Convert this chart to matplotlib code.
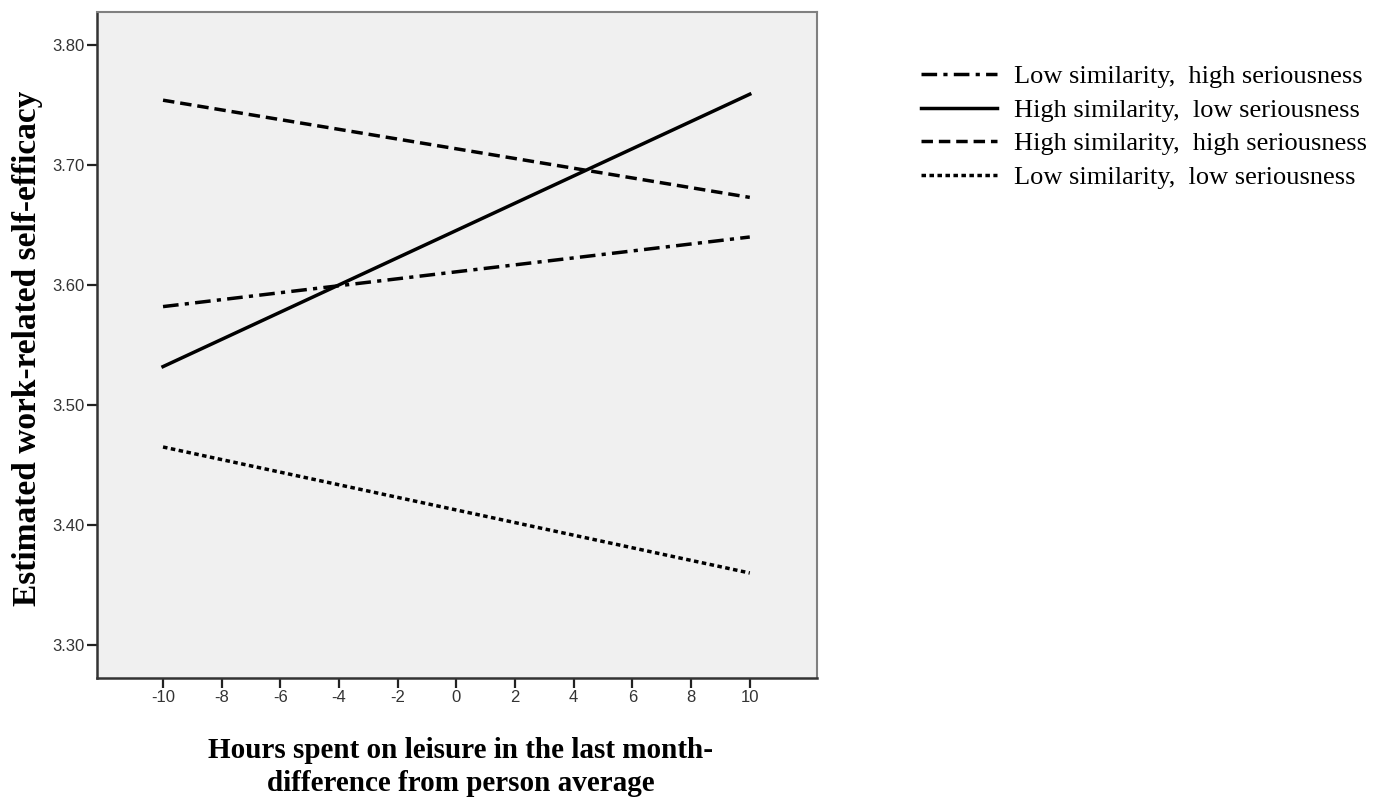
import numpy as np
import matplotlib.pyplot as plt

# Hours on leisure (difference from person average)
hours = [-10, 10]

# estimated self-efficacy at the two ends of each line
low_sim_high_ser = [3.582, 3.640]
high_sim_low_ser = [3.532, 3.759]
high_sim_high_ser = [3.754, 3.673]
low_sim_low_ser = [3.465, 3.360]

labels = ['Low similarity,  high seriousness',
          'High similarity,  low seriousness',
          'High similarity,  high seriousness',
          'Low similarity,  low seriousness']

x_ticks = np.arange(-10, 11, 2)
y_ticks = [3.30, 3.40, 3.50, 3.60, 3.70, 3.80]

fig = plt.figure(figsize=(13.96, 8), dpi=100)
ax = fig.add_axes([0.0695, 0.1525, 0.5155, 0.8325])
ax.set_facecolor('#f0f0f0')

lw = 2.5
l1, = ax.plot(hours, low_sim_high_ser, color='black', lw=lw, dashes=(4.5, 1.8, 1.2, 1.8))
l2, = ax.plot(hours, high_sim_low_ser, color='black', lw=lw, ls='-')
l3, = ax.plot(hours, high_sim_high_ser, color='black', lw=lw, dashes=(3.3, 1.7))
l4, = ax.plot(hours, low_sim_low_ser, color='black', lw=lw, dashes=(1.3, 1.0))

ax.set_xlim(-12.25, 12.28)
ax.set_ylim(3.2725, 3.8275)
ax.set_xticks(x_ticks)
ax.set_xticklabels([str(t) for t in x_ticks])
ax.set_yticks(y_ticks)
ax.set_yticklabels(['%.2f' % t for t in y_ticks])

for side in ['top', 'right']:
    ax.spines[side].set_color('#808080')
    ax.spines[side].set_linewidth(1.5)
for side in ['left', 'bottom']:
    ax.spines[side].set_color('#333333')
    ax.spines[side].set_linewidth(1.8)

ax.tick_params(axis='both', direction='out', length=7, width=1.6, color='#222222',
               labelsize=12, labelcolor='#333333', pad=2)
for lab in ax.get_xticklabels() + ax.get_yticklabels():
    lab.set_family('Liberation Sans')

# axis titles
fig.text(461 / 1396, 1 - 767 / 800,
         'Hours spent on leisure in the last month-\ndifference from person average',
         family='Liberation Serif', fontweight='bold', fontsize=21,
         ha='center', va='center', linespacing=1.3)
fig.text(28 / 1396, 1 - 348 / 800, 'Estimated work-related self-efficacy',
         family='Liberation Serif', fontweight='bold', fontsize=24,
         rotation=90, ha='center', va='center')

fig.legend([l1, l2, l3, l4], labels, loc='upper left', bbox_to_anchor=(0.660, 0.919),
           frameon=False, prop={'family': 'Liberation Serif', 'size': 19},
           handlelength=2.85, handletextpad=0.65, labelspacing=0.38, borderaxespad=0,
           borderpad=0)

fig.savefig('out.png', dpi=100)
